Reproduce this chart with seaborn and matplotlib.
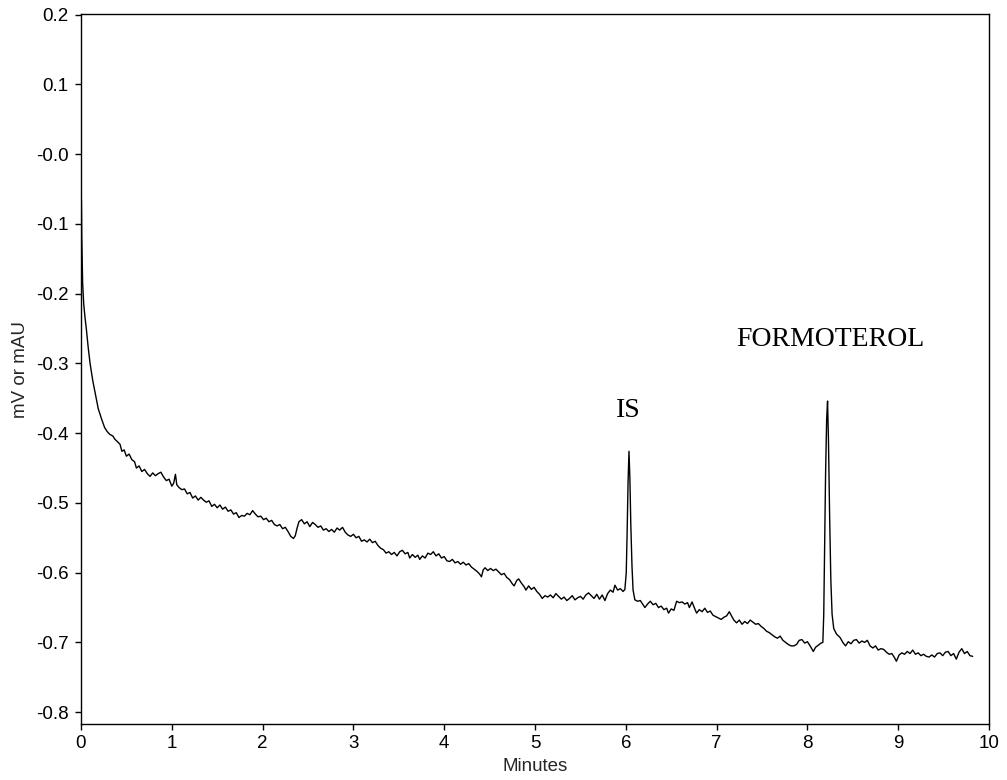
import matplotlib
matplotlib.use("Agg")
import matplotlib.pyplot as plt
import seaborn as sns
import pandas as pd

# ---- data ----
minutes_start = [0.0, 0.004, 0.008, 0.018, 0.03, 0.045, 0.06, 0.08, 0.10, 0.13, 0.155, 0.19, 0.23, 0.26, 0.29,
                 0.32, 0.35, 0.375, 0.40, 0.43, 0.45, 0.475, 0.50]
signal_start = [-0.812, -0.065, -0.118, -0.185, -0.215, -0.235, -0.252, -0.278, -0.300, -0.325, -0.342, -0.365,
                -0.381, -0.392, -0.398, -0.402, -0.404, -0.409, -0.412, -0.416, -0.426, -0.424, -0.433]

minutes_b = [0.53, 0.56, 0.59, 0.61, 0.64, 0.67, 0.70, 0.73, 0.76, 0.79, 0.82, 0.85, 0.88, 0.91, 0.94, 0.97,
             1.00, 1.02, 1.04, 1.055, 1.08, 1.11, 1.14, 1.17, 1.20, 1.23, 1.26, 1.29, 1.32, 1.35, 1.38, 1.41,
             1.44, 1.47, 1.50]
signal_b = [-0.430, -0.438, -0.441, -0.450, -0.447, -0.455, -0.452, -0.458, -0.462, -0.457, -0.461, -0.458,
            -0.456, -0.463, -0.468, -0.466, -0.476, -0.472, -0.459, -0.474, -0.478, -0.481, -0.480, -0.487,
            -0.485, -0.493, -0.490, -0.496, -0.492, -0.496, -0.499, -0.497, -0.505, -0.502, -0.507]

minutes_c = [1.53, 1.56, 1.59, 1.62, 1.65, 1.68, 1.71, 1.74, 1.77, 1.80, 1.83, 1.86, 1.89, 1.92, 1.95, 1.98,
             2.01, 2.04, 2.07, 2.10, 2.13, 2.16, 2.19, 2.22, 2.25, 2.28, 2.31, 2.34, 2.36, 2.38, 2.40, 2.43,
             2.46, 2.49]
signal_c = [-0.503, -0.509, -0.506, -0.512, -0.510, -0.516, -0.514, -0.521, -0.518, -0.519, -0.515, -0.517,
            -0.511, -0.516, -0.520, -0.519, -0.524, -0.522, -0.527, -0.525, -0.531, -0.533, -0.531, -0.537,
            -0.535, -0.541, -0.548, -0.551, -0.547, -0.536, -0.527, -0.524, -0.530, -0.527]

minutes_d = [2.52, 2.55, 2.58, 2.61, 2.64, 2.67, 2.70, 2.73, 2.76, 2.79, 2.82, 2.85, 2.88, 2.91, 2.94, 2.97,
             3.00, 3.03, 3.06, 3.09, 3.12, 3.15, 3.18, 3.21, 3.24, 3.27, 3.30, 3.33, 3.36, 3.39, 3.42, 3.45,
             3.48]
signal_d = [-0.534, -0.528, -0.531, -0.535, -0.533, -0.539, -0.537, -0.541, -0.538, -0.542, -0.536, -0.539,
            -0.535, -0.542, -0.546, -0.548, -0.545, -0.550, -0.548, -0.555, -0.553, -0.556, -0.552, -0.557,
            -0.555, -0.561, -0.565, -0.567, -0.572, -0.570, -0.574, -0.571, -0.576]

minutes_e = [3.51, 3.54, 3.57, 3.60, 3.62, 3.65, 3.68, 3.71, 3.73, 3.76, 3.79, 3.82, 3.85, 3.88, 3.91, 3.94,
             3.97, 4.00, 4.03, 4.06, 4.09, 4.12, 4.15, 4.18, 4.21, 4.24, 4.27, 4.30, 4.33, 4.36, 4.39, 4.41,
             4.43, 4.45, 4.48]
signal_e = [-0.570, -0.568, -0.573, -0.571, -0.579, -0.574, -0.578, -0.575, -0.581, -0.576, -0.579, -0.572,
            -0.574, -0.570, -0.576, -0.573, -0.579, -0.577, -0.583, -0.584, -0.581, -0.586, -0.584, -0.588,
            -0.585, -0.589, -0.587, -0.592, -0.595, -0.598, -0.602, -0.606, -0.596, -0.593, -0.597]

minutes_f = [4.51, 4.54, 4.57, 4.60, 4.63, 4.66, 4.69, 4.72, 4.75, 4.77, 4.80, 4.82, 4.85, 4.88, 4.90, 4.93,
             4.96, 4.99, 5.02, 5.05, 5.08, 5.11, 5.14, 5.17, 5.20, 5.23, 5.26, 5.29, 5.32, 5.35, 5.38, 5.41,
             5.44, 5.47, 5.50, 5.53, 5.56, 5.59, 5.62, 5.65, 5.68, 5.71, 5.74, 5.77, 5.80, 5.83, 5.86, 5.88,
             5.91, 5.94, 5.97, 5.99]
signal_f = [-0.594, -0.597, -0.595, -0.599, -0.603, -0.601, -0.607, -0.610, -0.616, -0.619, -0.611, -0.609,
            -0.615, -0.620, -0.625, -0.619, -0.624, -0.621, -0.627, -0.631, -0.637, -0.633, -0.635, -0.632,
            -0.636, -0.630, -0.634, -0.638, -0.635, -0.640, -0.637, -0.633, -0.639, -0.636, -0.634, -0.638,
            -0.632, -0.629, -0.633, -0.637, -0.631, -0.638, -0.632, -0.640, -0.630, -0.625, -0.628, -0.618,
            -0.625, -0.623, -0.627, -0.624]

minutes_is = [6.005, 6.015, 6.025, 6.035, 6.045, 6.055, 6.068, 6.08, 6.10]
signal_is = [-0.600, -0.540, -0.470, -0.426, -0.465, -0.530, -0.590, -0.625, -0.639]

minutes_g = [6.13, 6.16, 6.19, 6.21, 6.24, 6.27, 6.30, 6.33, 6.36, 6.39, 6.42, 6.45, 6.47, 6.50, 6.53, 6.56,
             6.59, 6.62, 6.65, 6.68, 6.70, 6.73, 6.76, 6.78, 6.81, 6.84, 6.87, 6.90, 6.93, 6.96, 6.99, 7.02,
             7.05, 7.08, 7.11, 7.14, 7.16, 7.19, 7.22, 7.25, 7.28, 7.31, 7.34, 7.37, 7.40, 7.43, 7.46, 7.49,
             7.52, 7.55, 7.58, 7.61, 7.64, 7.67, 7.70, 7.73, 7.76, 7.79, 7.82, 7.85, 7.88, 7.91, 7.94, 7.97,
             8.00, 8.03, 8.065, 8.09, 8.12, 8.15]
signal_g = [-0.641, -0.640, -0.646, -0.650, -0.645, -0.641, -0.646, -0.644, -0.650, -0.648, -0.653, -0.651,
            -0.658, -0.652, -0.654, -0.641, -0.643, -0.642, -0.645, -0.643, -0.650, -0.642, -0.652, -0.658,
            -0.653, -0.656, -0.651, -0.657, -0.655, -0.661, -0.663, -0.665, -0.667, -0.664, -0.662, -0.656,
            -0.661, -0.668, -0.672, -0.668, -0.674, -0.670, -0.673, -0.668, -0.671, -0.674, -0.673, -0.677,
            -0.680, -0.684, -0.686, -0.689, -0.692, -0.694, -0.691, -0.697, -0.700, -0.703, -0.705, -0.705,
            -0.703, -0.697, -0.696, -0.701, -0.699, -0.705, -0.713, -0.707, -0.704, -0.701]

minutes_form = [8.17, 8.18, 8.19, 8.20, 8.212, 8.222, 8.232, 8.245, 8.258, 8.272, 8.29, 8.32, 8.36]
signal_form = [-0.700, -0.660, -0.560, -0.460, -0.380, -0.354, -0.410, -0.520, -0.610, -0.660, -0.680,
               -0.688, -0.693]

minutes_h = [8.39, 8.42, 8.45, 8.48, 8.51, 8.54, 8.57, 8.60, 8.63, 8.66, 8.69, 8.72, 8.75, 8.78, 8.81, 8.84,
             8.87, 8.90, 8.93, 8.96, 8.98, 9.01, 9.04, 9.07, 9.10, 9.13, 9.16, 9.19, 9.22, 9.25, 9.28, 9.31,
             9.34, 9.37, 9.40, 9.43, 9.46, 9.49, 9.52, 9.55, 9.58, 9.61, 9.64, 9.67, 9.70, 9.73, 9.76, 9.79,
             9.82]
signal_h = [-0.700, -0.705, -0.699, -0.702, -0.697, -0.696, -0.701, -0.698, -0.700, -0.697, -0.705, -0.708,
            -0.705, -0.711, -0.709, -0.710, -0.714, -0.717, -0.716, -0.722, -0.727, -0.718, -0.715, -0.717,
            -0.713, -0.716, -0.711, -0.717, -0.715, -0.719, -0.717, -0.720, -0.721, -0.718, -0.721, -0.716,
            -0.715, -0.719, -0.714, -0.713, -0.719, -0.716, -0.724, -0.714, -0.709, -0.716, -0.713, -0.719,
            -0.720]

x_ticks = [0, 1, 2, 3, 4, 5, 6, 7, 8, 9, 10]
y_ticks = [0.2, 0.1, 0.0, -0.1, -0.2, -0.3, -0.4, -0.5, -0.6, -0.7, -0.8]
y_tick_labels = ["0.2", "0.1", "-0.0", "-0.1", "-0.2", "-0.3", "-0.4", "-0.5", "-0.6", "-0.7", "-0.8"]

peak_names = ["IS", "FORMOTEROL"]
peak_label_x = [6.03, 8.25]
peak_label_y = [-0.368, -0.266]

# ---- assemble ----
minutes = (minutes_start + minutes_b + minutes_c + minutes_d + minutes_e + minutes_f + minutes_is
           + minutes_g + minutes_form + minutes_h)
signal = (signal_start + signal_b + signal_c + signal_d + signal_e + signal_f + signal_is
          + signal_g + signal_form + signal_h)
df = pd.DataFrame({"Minutes": minutes, "signal": signal})

sns.set_theme(style="ticks")
plt.rcParams["font.family"] = ["Liberation Sans", "DejaVu Sans"]

fig = plt.figure(figsize=(10.07, 7.8), dpi=100)
ax = fig.add_axes([81 / 1007, 1 - 724 / 780, (989 - 81) / 1007, (724 - 14) / 780])

sns.lineplot(data=df, x="Minutes", y="signal", ax=ax, color="black", linewidth=1.0,
             estimator=None, sort=False)

ax.set_xlim(0, 10)
ax.set_ylim(-0.817, 0.201)
ax.set_xticks(x_ticks)
ax.set_xticklabels([str(v) for v in x_ticks])
ax.set_yticks(y_ticks)
ax.set_yticklabels(y_tick_labels)
ax.tick_params(axis="both", direction="out", length=4, width=1, colors="black",
               labelsize=13.5)
ax.tick_params(axis="y", pad=5)
ax.tick_params(axis="x", pad=4)
for s in ax.spines.values():
    s.set_visible(True)
    s.set_color("black")
    s.set_linewidth(1.0)

ax.set_xlabel("Minutes", fontsize=13.5, labelpad=4)
ax.set_ylabel("mV or mAU", fontsize=13.5, labelpad=5)

for name, tx, ty in zip(peak_names, peak_label_x, peak_label_y):
    ax.text(tx, ty, name, ha="center", va="center", fontsize=20,
            family=["Liberation Serif", "DejaVu Serif"], color="black")

fig.savefig("out.png", dpi=100)
